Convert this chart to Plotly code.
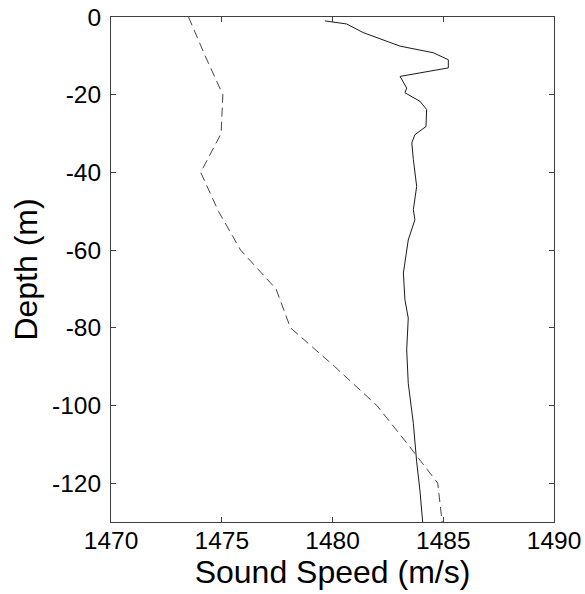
import plotly.graph_objects as go

# Measured sound speed profile (solid)
measured_depth = [-1.0, -1.8, -4.0, -7.5, -9.2, -11.0, -13.1, -15.3, -18.3, -19.5,
                  -21.7, -23.8, -28.2, -30.3, -32.4, -36.7, -43.6, -49.6, -52.2,
                  -57.4, -65.9, -72.8, -77.5, -85.7, -94.3, -104.6, -114.5, -122.0, -130.0]
measured_speed = [1479.66, 1480.64, 1481.38, 1483.05, 1484.55, 1485.23, 1485.23, 1483.05,
                  1483.35, 1483.27, 1483.95, 1484.25, 1484.22, 1483.72, 1483.58, 1483.65,
                  1483.80, 1483.65, 1483.72, 1483.42, 1483.20, 1483.27, 1483.42, 1483.35,
                  1483.42, 1483.65, 1483.80, 1483.95, 1484.07]

# Model / climatology profile (dashed)
model_depth = [0, -10, -20, -30, -40, -50, -60, -70, -80, -90, -100, -110, -120, -130]
model_speed = [1473.5, 1474.25, 1475.05, 1474.97, 1474.05, 1474.85, 1475.85, 1477.45,
               1478.1, 1480.1, 1482.0, 1483.4, 1484.75, 1484.95]

x_ticks = [1470, 1475, 1480, 1485, 1490]
y_ticks = [0, -20, -40, -60, -80, -100, -120]

FONT = "Liberation Sans, Arial, Helvetica, sans-serif"

fig = go.Figure()
fig.add_trace(go.Scatter(x=measured_speed, y=measured_depth, mode="lines",
                         line=dict(color="#1a1a1a", width=1), showlegend=False))
fig.add_trace(go.Scatter(x=model_speed, y=model_depth, mode="lines",
                         line=dict(color="#444444", width=1, dash="9px,5px"), showlegend=False))

axis_common = dict(showline=True, linecolor="#404040", linewidth=1, mirror="ticks",
                   ticks="inside", ticklen=5, tickcolor="#404040", showgrid=False,
                   zeroline=False, tickfont=dict(family=FONT, size=24.5, color="black"))

fig.update_xaxes(range=[1470, 1490], tickvals=x_ticks, ticktext=[str(v) for v in x_ticks],
                 title=dict(text="Sound Speed (m/s)", font=dict(family=FONT, size=32, color="black"),
                            standoff=7),
                 ticklabelstandoff=-3, **axis_common)
fig.update_yaxes(range=[-130, 0], tickvals=y_ticks, ticktext=[str(v) for v in y_ticks],
                 title=dict(text="Depth (m)", font=dict(family=FONT, size=32, color="black"),
                            standoff=4),
                 ticklabelstandoff=4, **axis_common)

fig.update_layout(width=585, height=594, margin=dict(l=111, r=31, t=17, b=72, autoexpand=False),
                  plot_bgcolor="white", paper_bgcolor="white")

fig.write_html("out.html")
